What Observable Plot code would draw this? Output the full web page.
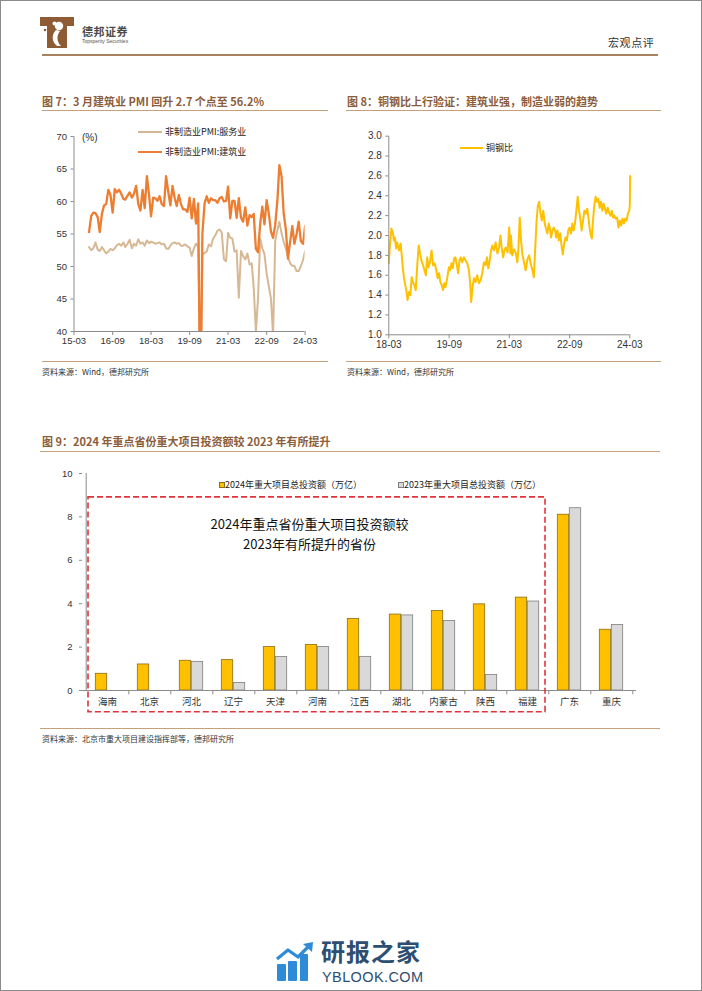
<!DOCTYPE html>
<html>
<head>
<meta charset="utf-8">
<script src="https://cdn.jsdelivr.net/npm/d3@7"></script>
<script src="https://cdn.jsdelivr.net/npm/@observablehq/plot@0.6"></script>
<style>
  html, body { margin:0; padding:0; background:#fff; }
  #page { position:relative; width:702px; height:991px; overflow:hidden; background:#fff;
          font-family:"Noto Sans CJK SC","Liberation Sans",sans-serif; }
  .a { position:absolute; white-space:nowrap; line-height:1; }
  .title { font-size:11px; font-weight:bold; color:#8b5d3b; }
  .rule { position:absolute; height:0; border-top:1.5px solid #c6a07b; }
  .src { font-size:8px; color:#333; }
  .leg { font-size:9px; color:#222; }
  .sw { position:absolute; height:0; border-top:2px solid; }
  .chart { position:absolute; }
  #border { position:absolute; left:0; top:0; width:702px; height:991px; box-sizing:border-box; border:1px solid #8a8a8a; pointer-events:none; }
</style>
</head>
<body>
<div id="page">
  <!-- header -->
  <svg class="a" style="left:40px;top:17px" width="34" height="31" viewBox="0 0 34 31">
    <path d="M0 0 H34 V9 H27 V31 H7 V9 H0 Z" fill="#8d5b34"/>
    <circle cx="19" cy="9" r="4.2" fill="#fff"/>
    <circle cx="14.5" cy="6.5" r="2" fill="#fff"/>
    <path d="M16 13 C 11 18, 12 25, 17 29 L 21 29 C 17 25, 16 19, 20 14 Z" fill="#fff"/>
    <circle cx="5" cy="13" r="1.3" fill="#8d5b34"/>
  </svg>
  <div class="a" style="left:82px;top:26px;font-size:11px;font-weight:bold;color:#4b4b4b;letter-spacing:0.5px">德邦证券</div>
  <div class="a" style="left:82px;top:39px;font-size:5px;color:#555;font-family:'Liberation Sans',sans-serif">Topsperity Securities</div>
  <div class="a" style="left:608px;top:37px;font-size:11px;color:#333;letter-spacing:0.6px">宏观点评</div>
  <div class="rule" style="left:42px;top:54px;width:616px;border-top:2.5px solid #a7825f"></div>

  <!-- chart 7 / 8 titles -->
  <div class="a title" style="left:42px;top:96px">图 7：3 月建筑业 PMI 回升 2.7 个点至 56.2%</div>
  <div class="rule" style="left:42px;top:109.5px;width:286px"></div>
  <div class="a title" style="left:347px;top:96px">图 8：铜钢比上行验证：建筑业强，制造业弱的趋势</div>
  <div class="rule" style="left:346px;top:109.5px;width:315px"></div>

  <div class="chart" id="c7" style="left:30px;top:120px"></div>
  <div class="chart" id="c8" style="left:345px;top:120px"></div>

  <!-- chart 7 legend -->
  <div class="a" style="left:82px;top:133px;font-size:10px;color:#333;font-family:'Liberation Sans',sans-serif">(%)</div>
  <div class="sw" style="left:138px;top:131px;width:24px;border-color:#D7B894"></div>
  <div class="a leg" style="left:165px;top:127px">非制造业PMI:服务业</div>
  <div class="sw" style="left:138px;top:151px;width:24px;border-color:#ED7D31"></div>
  <div class="a leg" style="left:165px;top:147px">非制造业PMI:建筑业</div>
  <!-- chart 8 legend -->
  <div class="sw" style="left:460px;top:147px;width:23px;border-color:#FFC000"></div>
  <div class="a leg" style="left:486px;top:143px">铜钢比</div>

  <div class="rule" style="left:42px;top:361px;width:286px"></div>
  <div class="rule" style="left:346px;top:361px;width:315px"></div>
  <div class="a src" style="left:42px;top:368px">资料来源：Wind，德邦研究所</div>
  <div class="a src" style="left:347px;top:368px">资料来源：Wind，德邦研究所</div>

  <!-- chart 9 -->
  <div class="a title" style="left:42px;top:436px">图 9：2024 年重点省份重大项目投资额较 2023 年有所提升</div>
  <div class="rule" style="left:40px;top:451px;width:620px"></div>
  <div class="chart" id="c9" style="left:30px;top:460px"></div>
  <div class="a" style="left:219px;top:481.5px;width:4px;height:4px;background:#FFC000;border:0.8px solid #8C6D12"></div>
  <div class="a leg" style="left:225px;top:479.5px">2024年重大项目总投资额（万亿）</div>
  <div class="a" style="left:398px;top:481.5px;width:4px;height:4px;background:#D9D9D9;border:0.8px solid #7F7F7F"></div>
  <div class="a leg" style="left:404px;top:479.5px">2023年重大项目总投资额（万亿）</div>
  <div class="rule" style="left:40px;top:728px;width:620px"></div>
  <div class="a src" style="left:42px;top:735px">资料来源：北京市重大项目建设指挥部等，德邦研究所</div>

  <!-- watermark -->
  <svg class="a" style="left:275px;top:942px" width="40" height="40" viewBox="0 0 40 40">
    <rect x="2" y="22" width="9" height="17" rx="1" fill="#2F8BD8"/>
    <rect x="13" y="19" width="9" height="20" rx="1" fill="#2F8BD8"/>
    <rect x="25" y="12" width="8" height="27" rx="1" fill="#2F8BD8"/>
    <polyline points="2,17 13,8 23,15 34,4" fill="none" stroke="#2F8BD8" stroke-width="3.2" stroke-linejoin="round"/>
    <polygon points="38,0 37,10 28,2" fill="#2F8BD8"/>
  </svg>
  <div class="a" style="left:321px;top:939px;font-size:24px;font-weight:bold;color:#2d4e70;letter-spacing:1px">研报之家</div>
  <div class="a" style="left:322px;top:970px;font-size:14.5px;color:#2d4e70;font-family:'Liberation Sans',sans-serif;letter-spacing:0.4px">YBLOOK.COM</div>

  <div id="border"></div>
</div>

<script>
// ================= DATA =================
// Figure 7: non-manufacturing PMI, monthly from 2015-10 to 2024-03
const pmiStartMonth = "2015-10";
const constructionPMI = [
  55.3, 57.8, 58.3, 58.2, 57.6, 55.3, 58.1, 59.4, 59.6, 61.8,
  61.0, 58.3, 61.9, 61.4, 61.8, 61.2, 60.4, 60.3, 60.9, 61.4,
  60.6, 61.2, 62.4, 59.6, 58.6, 61.8, 59.0, 63.9, 61.0, 57.7,
  60.6, 60.5, 60.1, 60.8, 59.6, 59.3, 63.9, 61.5, 59.4, 62.4,
  60.5, 59.3, 61.0, 59.6, 58.8, 58.8, 58.4, 60.6, 57.4, 60.4, 56.6,
  59.7, 26.6, 55.1, 59.7, 60.8, 59.8, 60.5, 60.2, 60.2, 59.8, 60.5, 60.7,
  60.0, 60.1, 62.3, 57.4, 60.1, 60.1, 57.5, 60.5, 57.5, 56.9, 59.1, 56.3,
  57.9, 57.6, 58.1, 52.7, 52.2, 56.6, 59.2, 56.5, 60.2, 58.2, 55.4, 54.4,
  56.4, 60.2, 65.6, 63.9, 58.2, 55.7, 51.2, 53.8, 56.2, 53.5, 55.0, 56.9,
  53.9, 53.5, 56.2
];
const servicesPMI = [
  53.0, 52.5, 52.8, 53.7, 52.6, 52.4, 53.0, 52.5, 52.0, 52.3,
  52.7, 52.5, 52.8, 53.3, 53.5, 53.2, 53.7, 53.0, 53.5, 54.1,
  52.8, 53.5, 53.2, 54.2, 53.5, 53.7, 53.2, 54.0, 53.6, 53.8,
  53.7, 53.5, 53.6, 53.7, 53.4, 53.5, 52.8, 52.7, 53.2, 53.6,
  53.7, 53.5, 53.6, 53.2, 53.2, 53.4, 53.1, 52.9, 51.6, 52.8, 53.5,
  53.1, 30.1, 51.8, 52.1, 52.3, 53.4, 53.1, 54.3, 54.8, 55.5, 55.7, 55.2,
  51.1, 50.8, 55.2, 54.4, 54.3, 52.3, 52.5, 45.2, 52.4, 51.6, 51.1, 52.0,
  50.3, 50.5, 46.7, 40.0, 45.1, 54.3, 52.8, 51.9, 48.9, 47.0, 45.1, 39.4,
  54.0, 55.6, 56.9, 55.1, 53.8, 52.8, 51.5, 50.5, 50.1, 50.1, 49.3, 49.3,
  50.1, 51.0, 52.4
];
const pmiTickLabels = ["15-03","16-09","18-03","19-09","21-03","22-09","24-03"];
const pmiYTicks = [40, 45, 50, 55, 60, 65, 70];

// Figure 8: copper / steel ratio
const cuSteelDates = [
  "2018-03-01","2018-03-10","2018-03-25","2018-04-07","2018-04-16","2018-04-25","2018-05-07","2018-05-16","2018-06-01","2018-06-16",
  "2018-06-25","2018-07-07","2018-07-16","2018-07-25","2018-08-07","2018-08-19","2018-09-01","2018-09-13","2018-09-25","2018-10-07",
  "2018-10-19","2018-11-01","2018-11-16","2018-11-28","2018-12-10","2018-12-22","2019-01-07","2019-01-19","2019-02-01","2019-02-13",
  "2019-02-25","2019-03-10","2019-03-25","2019-04-07","2019-04-22","2019-05-07","2019-05-19","2019-06-01","2019-06-13","2019-06-25",
  "2019-07-07","2019-07-19","2019-07-30","2019-08-14","2019-08-30","2019-09-10","2019-09-22","2019-10-04","2019-10-16","2019-10-28",
  "2019-11-10","2019-11-22","2019-12-04","2019-12-16","2019-12-28","2020-01-13","2020-01-28","2020-02-13","2020-02-28","2020-03-10",
  "2020-03-19","2020-04-01","2020-04-13","2020-04-28","2020-05-13","2020-05-28","2020-06-13","2020-06-28","2020-07-13","2020-07-28",
  "2020-08-10","2020-08-22","2020-09-04","2020-09-16","2020-09-28","2020-10-13","2020-10-28","2020-11-13","2020-11-28","2020-12-10",
  "2020-12-22","2021-01-04","2021-01-16","2021-01-28","2021-02-13","2021-02-28","2021-03-10","2021-03-16","2021-03-28","2021-04-13",
  "2021-04-28","2021-05-13","2021-05-22","2021-06-04","2021-06-16","2021-06-28","2021-07-13","2021-07-28","2021-08-13","2021-08-28",
  "2021-09-13","2021-09-28","2021-10-10","2021-10-22","2021-11-04","2021-11-16","2021-11-28","2021-12-10","2021-12-22","2022-01-04",
  "2022-01-16","2022-01-28","2022-02-10","2022-02-22","2022-03-04","2022-03-16","2022-03-28","2022-04-10","2022-04-22","2022-05-01",
  "2022-05-13","2022-05-25","2022-06-07","2022-06-19","2022-07-01","2022-07-13","2022-07-25","2022-08-07","2022-08-19","2022-09-01",
  "2022-09-13","2022-09-25","2022-10-07","2022-10-19","2022-11-01","2022-11-13","2022-11-25","2022-12-07","2022-12-19","2023-01-01",
  "2023-01-13","2023-01-25","2023-02-07","2023-02-19","2023-03-01","2023-03-13","2023-03-22","2023-04-01","2023-04-13","2023-04-25",
  "2023-05-07","2023-05-19","2023-06-01","2023-06-13","2023-06-25","2023-07-07","2023-07-19","2023-08-01","2023-08-13","2023-08-25",
  "2023-09-07","2023-09-19","2023-10-01","2023-10-13","2023-10-25","2023-11-07","2023-11-19","2023-12-01","2023-12-13","2023-12-25",
  "2024-01-07","2024-01-19","2024-02-01","2024-02-13","2024-02-25","2024-03-01","2024-03-04"
];
const cuSteelValues = [
  1.72, 1.88, 2.07, 2.03, 1.95, 1.98, 1.87, 1.93, 1.85, 1.92,
  1.82, 1.67, 1.58, 1.52, 1.45, 1.35, 1.43, 1.40, 1.58, 1.53,
  1.50, 1.45, 1.72, 1.90, 1.82, 1.75, 1.70, 1.65, 1.60, 1.78,
  1.68, 1.73, 1.85, 1.70, 1.72, 1.65, 1.57, 1.62, 1.53, 1.50,
  1.45, 1.52, 1.48, 1.57, 1.68, 1.65, 1.72, 1.67, 1.77, 1.78,
  1.70, 1.62, 1.75, 1.78, 1.73, 1.78, 1.75, 1.72, 1.65, 1.52,
  1.33, 1.48, 1.57, 1.53, 1.60, 1.52, 1.55, 1.62, 1.73, 1.70,
  1.78, 1.67, 1.75, 1.85, 1.90, 1.85, 1.93, 1.82, 1.88, 2.00,
  1.88, 1.78, 1.85, 1.88, 1.83, 2.08, 1.82, 2.00, 1.80, 1.86,
  1.83, 1.73, 1.85, 2.18, 1.95, 1.81, 1.73, 1.65, 1.76, 1.80,
  1.71, 1.65, 1.58, 1.85, 2.15, 2.30, 2.34, 2.22, 2.15, 2.25,
  2.13, 2.07, 2.02, 2.12, 2.08, 1.98, 2.05, 2.08, 2.05, 1.98,
  2.05, 1.95, 2.02, 1.90, 1.81, 1.92, 1.98, 1.95, 2.05, 2.08,
  2.02, 2.12, 2.05, 2.12, 2.25, 2.39, 2.25, 2.17, 2.05, 2.15,
  2.25, 2.22, 2.27, 2.18, 2.08, 2.00, 1.97, 2.15, 2.30, 2.39,
  2.34, 2.37, 2.28, 2.34, 2.25, 2.32, 2.27, 2.22, 2.28, 2.23,
  2.20, 2.25, 2.18, 2.20, 2.17, 2.18, 2.08, 2.15, 2.10, 2.17,
  2.12, 2.17, 2.15, 2.22, 2.25, 2.30, 2.60
];
const cuSteelTickLabels = ["18-03","19-09","21-03","22-09","24-03"];
const cuSteelYTicks = [1.0, 1.2, 1.4, 1.6, 1.8, 2.0, 2.2, 2.4, 2.6, 2.8, 3.0];

// Figure 9: major project investment by province (trillion yuan)
const provinces  = ["海南","北京","河北","辽宁","天津","河南","江西","湖北","内蒙古","陕西","福建","广东","重庆"];
const invest2024 = [0.77, 1.2, 1.37, 1.4, 2.0, 2.1, 3.3, 3.5, 3.66, 3.97, 4.28, 8.1, 2.8];
const invest2023 = [null, null, 1.32, 0.35, 1.54, 2.0, 1.55, 3.46, 3.2, 0.72, 4.1, 8.4, 3.02];
const investYTicks = [0, 2, 4, 6, 8, 10];
const highlightedProvinces = provinces.slice(0, 11);
const annotationLines = ["2024年重点省份重大项目投资额较", "2023年有所提升的省份"];

// ================= CHARTS =================
const axisGray = "#8c8c8c";
const ym = d3.utcParse("%y-%m");
const numFont = "'Liberation Sans', Arial, sans-serif";

// ---- Figure 7 ----
const pmiStart = d3.utcParse("%Y-%m")(pmiStartMonth);
const pmiRows = constructionPMI.map((v, i) => ({
  date: d3.utcMonth.offset(pmiStart, i), construction: v, services: servicesPMI[i]
}));
const c7 = Plot.plot({
  width: 290, height: 230,
  marginLeft: 43.5, marginRight: 15.4, marginTop: 16, marginBottom: 19,
  style: {fontFamily: numFont, fontSize: "9.5px", color: "#333", background: "transparent", overflow: "visible"},
  x: {type: "utc", domain: [ym(pmiTickLabels[0]), ym(pmiTickLabels[pmiTickLabels.length - 1])], axis: null, label: null},
  y: {domain: [pmiYTicks[0], pmiYTicks[pmiYTicks.length - 1]], axis: null, label: null},
  marks: [
    Plot.line(pmiRows, {x: "date", y: "services", stroke: "#D7B894", strokeWidth: 2, clip: true}),
    Plot.line(pmiRows, {x: "date", y: "construction", stroke: "#ED7D31", strokeWidth: 2.3, clip: true}),
    Plot.ruleY([pmiYTicks[0]], {stroke: axisGray}),
    Plot.ruleX([ym(pmiTickLabels[0])], {stroke: axisGray}),
    Plot.axisX({ticks: pmiTickLabels.map(ym), tickFormat: d3.utcFormat("%y-%m"), tickSize: 4, tickPadding: 2, stroke: axisGray, fill: "#333", label: null}),
    Plot.axisY({ticks: pmiYTicks, tickSize: 3, tickPadding: 4, stroke: axisGray, fill: "#333", label: null})
  ]
});
document.getElementById("c7").append(c7);

// ---- Figure 8 ----
const pd = d3.utcParse("%Y-%m-%d");
const cuRows = cuSteelDates.map((d, i) => ({date: pd(d), value: cuSteelValues[i]}));
const c8 = Plot.plot({
  width: 310, height: 235,
  marginLeft: 43.3, marginRight: 25.7, marginTop: 15.7, marginBottom: 20.7,
  style: {fontFamily: numFont, fontSize: "10px", color: "#333", background: "transparent", overflow: "visible"},
  x: {type: "utc", domain: [ym(cuSteelTickLabels[0]), ym(cuSteelTickLabels[cuSteelTickLabels.length - 1])], axis: null, label: null},
  y: {domain: [cuSteelYTicks[0], cuSteelYTicks[cuSteelYTicks.length - 1]], axis: null, label: null},
  marks: [
    Plot.line(cuRows, {x: "date", y: "value", stroke: "#FFC000", strokeWidth: 2}),
    Plot.ruleY([cuSteelYTicks[0]], {stroke: axisGray}),
    Plot.ruleX([ym(cuSteelTickLabels[0])], {stroke: axisGray}),
    Plot.axisX({ticks: cuSteelTickLabels.map(ym), tickFormat: d3.utcFormat("%y-%m"), tickSize: 4, tickPadding: 2, stroke: axisGray, fill: "#333", label: null}),
    Plot.axisY({ticks: cuSteelYTicks, tickFormat: d3.format(".1f"), tickSize: 3, tickPadding: 4, stroke: axisGray, fill: "#333", label: null})
  ]
});
document.getElementById("c8").append(c8);

// ---- Figure 9 ----
const W9 = 620, ML9 = 52, MR9 = 14;
const bw = (W9 - ML9 - MR9) / provinces.length;
const barW = 12;
const rows24 = provinces.map((p, i) => ({p, v: invest2024[i]}));
const rows23 = provinces.map((p, i) => ({p, v: invest2023[i]})).filter(d => d.v != null);
const c9 = Plot.plot({
  width: W9, height: 260,
  marginLeft: ML9, marginRight: MR9, marginTop: 13, marginBottom: 30,
  style: {fontFamily: numFont, fontSize: "9.5px", color: "#333", background: "transparent", overflow: "visible"},
  x: {type: "band", domain: provinces, padding: 0, axis: null, label: null},
  y: {domain: [investYTicks[0], investYTicks[investYTicks.length - 1]], axis: null, label: null},
  marks: [
    Plot.barY(rows24, {x: "p", y: "v", fill: "#FFC000", stroke: "#8C6D12", strokeWidth: 0.8, insetLeft: bw / 2 - barW, insetRight: bw / 2}),
    Plot.barY(rows23, {x: "p", y: "v", fill: "#D9D9D9", stroke: "#7F7F7F", strokeWidth: 0.8, insetLeft: bw / 2, insetRight: bw / 2 - barW}),
    Plot.ruleY([investYTicks[0]], {stroke: axisGray}),
    Plot.ruleX([provinces[0]], {y1: investYTicks[0], y2: investYTicks[investYTicks.length - 1], dx: -bw / 2, stroke: axisGray}),
    Plot.ruleX(provinces, {y1: 0, y2: -0.2, dx: bw / 2, stroke: axisGray}),
    Plot.axisY({ticks: investYTicks, tickSize: 3, tickPadding: 7, stroke: axisGray, fill: "#333", label: null}),
    Plot.axisX({tickSize: 0, tickPadding: 8, fill: "#333", fontFamily: "'Noto Sans CJK SC', sans-serif", label: null})
  ]
});
document.getElementById("c9").append(c9);

// dashed highlight box + annotation, positioned via the plot's own scales
const sx = c9.scale("x"), sy = c9.scale("y");
const bx0 = sx.apply(highlightedProvinces[0]) + 2;
const bx1 = sx.apply(highlightedProvinces[highlightedProvinces.length - 1]) + sx.bandwidth - 3;
const by0 = sy.apply(8.9), by1 = sy.apply(-1.0);
const svg9 = d3.select(c9);
svg9.append("rect")
  .attr("x", bx0).attr("y", by0).attr("width", bx1 - bx0).attr("height", by1 - by0)
  .attr("fill", "none").attr("stroke", "#E2333D").attr("stroke-width", 1.6)
  .attr("stroke-dasharray", "6,3");
const cx = (bx0 + bx1) / 2 - 7;
annotationLines.forEach((t, i) => {
  svg9.append("text")
    .attr("x", cx).attr("y", by0 + 32 + i * 20)
    .attr("text-anchor", "middle")
    .attr("font-family", "'Noto Sans CJK SC', sans-serif")
    .attr("font-size", 13).attr("fill", "#111")
    .text(t);
});
</script>
</body>
</html>
